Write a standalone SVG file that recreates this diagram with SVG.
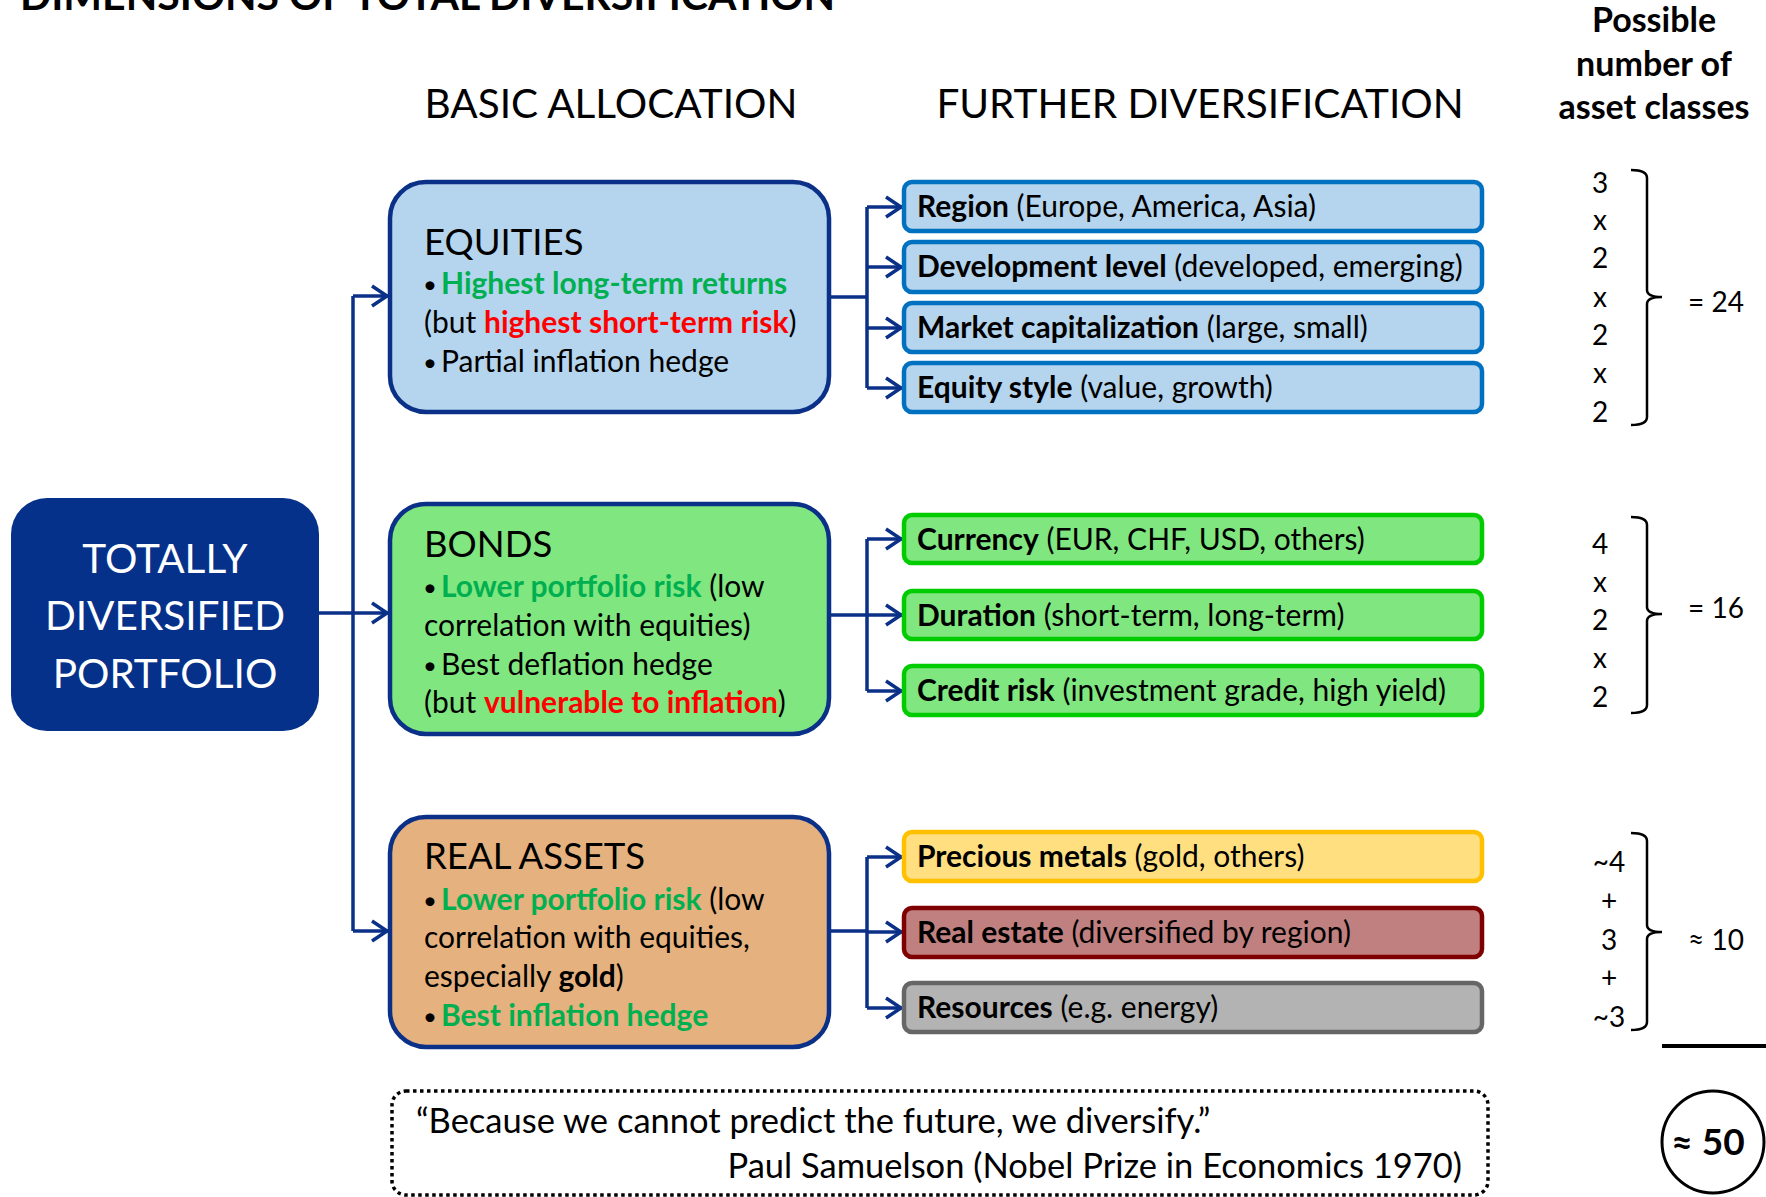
<svg xmlns="http://www.w3.org/2000/svg" width="1766" height="1197" viewBox="0 0 1766 1197">
<defs>
<style>
.t{font-family:Lato,"Open Sans","Liberation Sans",sans-serif;fill:#000}
.w{fill:#fff}
.b{font-weight:bold}
.g{fill:#00B050;font-weight:bold}
.r{fill:#FF0000;font-weight:bold}
.body{font-size:30px}
.bul{font-size:24px}
.head{font-size:36.5px}
.num{font-size:28px;text-anchor:middle}
.conn{fill:none;stroke:#0B3088;stroke-width:3.5}
.main{stroke:#0B3088;stroke-width:4.5}
.sub{stroke-width:4.5}
.brk{fill:none;stroke:#000;stroke-width:2.5}
</style>
<marker id="arr" markerUnits="userSpaceOnUse" markerWidth="30" markerHeight="30" viewBox="-20 -15 30 30" refX="0" refY="0" orient="auto" overflow="visible">
<path d="M-16,-10 L-1,0 L-16,10" fill="none" stroke="#0B3088" stroke-width="3.5"/>
</marker>
</defs>
<rect width="1766" height="1197" fill="#fff"/>

<text class="t b" x="20" y="9.5" font-size="41">DIMENSIONS OF TOTAL DIVERSIFICATION</text>
<text class="t" x="611" y="118" font-size="40.5" text-anchor="middle">BASIC ALLOCATION</text>
<text class="t" x="1200" y="118" font-size="40.5" text-anchor="middle">FURTHER DIVERSIFICATION</text>
<g id="header-count" class="t b" font-size="34" text-anchor="middle">
<text x="1654" y="32">Possible</text>
<text x="1654" y="76">number of</text>
<text x="1654" y="119">asset classes</text>
</g>

<g id="connectors">
<path class="conn" d="M319,613 L388,613" marker-end="url(#arr)"/>
<path class="conn" d="M353,296 L353,931"/>
<path class="conn" d="M353,296 L388,296" marker-end="url(#arr)"/>
<path class="conn" d="M353,931 L388,931" marker-end="url(#arr)"/>
<path class="conn" d="M829,297 L867,297 M867,207 L867,388"/>
<path class="conn" d="M867,207 L902,207" marker-end="url(#arr)"/>
<path class="conn" d="M867,267 L902,267" marker-end="url(#arr)"/>
<path class="conn" d="M867,328 L902,328" marker-end="url(#arr)"/>
<path class="conn" d="M867,388 L902,388" marker-end="url(#arr)"/>
<path class="conn" d="M829,615 L867,615 M867,539 L867,691"/>
<path class="conn" d="M867,539 L902,539" marker-end="url(#arr)"/>
<path class="conn" d="M867,615 L902,615" marker-end="url(#arr)"/>
<path class="conn" d="M867,691 L902,691" marker-end="url(#arr)"/>
<path class="conn" d="M829,931 L867,931 M867,857 L867,1008"/>
<path class="conn" d="M867,857 L902,857" marker-end="url(#arr)"/>
<path class="conn" d="M867,932 L902,932" marker-end="url(#arr)"/>
<path class="conn" d="M867,1008 L902,1008" marker-end="url(#arr)"/>
</g>

<g id="portfolio">
<rect x="11" y="498" width="308" height="233" rx="36" fill="#06318A"/>
<g class="t w" font-size="40.5" text-anchor="middle">
<text class="w" x="165" y="573">TOTALLY</text>
<text class="w" x="165" y="630">DIVERSIFIED</text>
<text class="w" x="165" y="688">PORTFOLIO</text>
</g>
</g>

<g id="equities">
<rect class="main" x="390" y="182" width="439" height="230" rx="36" fill="#B5D4ED"/>
<text class="t head" x="424" y="255">EQUITIES</text>
<text class="t bul" x="423" y="293">•</text><text class="t body g" x="441" y="294">Highest long-term returns</text>
<text class="t body" x="424" y="333">(but <tspan class="r">highest short-term risk</tspan>)</text>
<text class="t bul" x="423" y="371">•</text><text class="t body" x="441" y="372">Partial inflation hedge</text>
</g>

<g id="bonds">
<rect class="main" x="390" y="504" width="439" height="230" rx="36" fill="#80E680"/>
<text class="t head" x="424" y="557">BONDS</text>
<text class="t bul" x="423" y="596">•</text><text class="t body" x="441" y="597"><tspan class="g">Lower portfolio risk</tspan> (low</text>
<text class="t body" x="424" y="636">correlation with equities)</text>
<text class="t bul" x="423" y="674">•</text><text class="t body" x="441" y="675">Best deflation hedge</text>
<text class="t body" x="424" y="713">(but <tspan class="r">vulnerable to inflation</tspan>)</text>
</g>

<g id="real-assets">
<rect class="main" x="390" y="817" width="439" height="230" rx="36" fill="#E5B17E"/>
<text class="t head" x="424" y="869">REAL ASSETS</text>
<text class="t bul" x="423" y="909">•</text><text class="t body" x="441" y="910"><tspan class="g">Lower portfolio risk</tspan> (low</text>
<text class="t body" x="424" y="948">correlation with equities,</text>
<text class="t body" x="424" y="987">especially <tspan class="b">gold</tspan>)</text>
<text class="t bul" x="423" y="1025">•</text><text class="t body g" x="441" y="1026">Best inflation hedge</text>
</g>

<g id="region">
<rect class="sub" x="904" y="182" width="578" height="49" rx="8" fill="#B5D4ED" stroke="#0070C0"/>
<text class="t body" x="917" y="217"><tspan class="b">Region</tspan> (Europe, America, Asia)</text>
</g>
<g id="development">
<rect class="sub" x="904" y="242" width="578" height="50" rx="8" fill="#B5D4ED" stroke="#0070C0"/>
<text class="t body" x="917" y="277"><tspan class="b">Development level</tspan> (developed, emerging)</text>
</g>
<g id="market-cap">
<rect class="sub" x="904" y="303" width="578" height="49" rx="8" fill="#B5D4ED" stroke="#0070C0"/>
<text class="t body" x="917" y="338"><tspan class="b">Market capitalization</tspan> (large, small)</text>
</g>
<g id="equity-style">
<rect class="sub" x="904" y="363" width="578" height="49" rx="8" fill="#B5D4ED" stroke="#0070C0"/>
<text class="t body" x="917" y="398"><tspan class="b">Equity style</tspan> (value, growth)</text>
</g>
<g id="currency">
<rect class="sub" x="904" y="515" width="578" height="48" rx="8" fill="#80E680" stroke="#00CC00"/>
<text class="t body" x="917" y="550"><tspan class="b">Currency</tspan> (EUR, CHF, USD, others)</text>
</g>
<g id="duration">
<rect class="sub" x="904" y="591" width="578" height="48" rx="8" fill="#80E680" stroke="#00CC00"/>
<text class="t body" x="917" y="626"><tspan class="b">Duration</tspan> (short-term, long-term)</text>
</g>
<g id="credit-risk">
<rect class="sub" x="904" y="666" width="578" height="49" rx="8" fill="#80E680" stroke="#00CC00"/>
<text class="t body" x="917" y="701"><tspan class="b">Credit risk</tspan> (investment grade, high yield)</text>
</g>
<g id="precious-metals">
<rect class="sub" x="904" y="832" width="578" height="49" rx="8" fill="#FFDF80" stroke="#FFC000"/>
<text class="t body" x="917" y="867"><tspan class="b">Precious metals</tspan> (gold, others)</text>
</g>
<g id="real-estate">
<rect class="sub" x="904" y="908" width="578" height="49" rx="8" fill="#C0807F" stroke="#7F0000"/>
<text class="t body" x="917" y="943"><tspan class="b">Real estate</tspan> (diversified by region)</text>
</g>
<g id="resources">
<rect class="sub" x="904" y="983" width="578" height="49" rx="8" fill="#B3B3B3" stroke="#666666"/>
<text class="t body" x="917" y="1018"><tspan class="b">Resources</tspan> (e.g. energy)</text>
</g>

<g id="count-equities">
<text class="t num" x="1600" y="193">3</text>
<text class="t num" x="1600" y="230">x</text>
<text class="t num" x="1600" y="268">2</text>
<text class="t num" x="1600" y="307">x</text>
<text class="t num" x="1600" y="345">2</text>
<text class="t num" x="1600" y="383">x</text>
<text class="t num" x="1600" y="422">2</text>
<path class="brk" d="M1631,170 Q1647,170 1647,178 L1647,290 Q1647,297 1662,297 Q1647,297 1647,304 L1647,417 Q1647,425 1631,425"/>
<text class="t" x="1688" y="312" font-size="28">= 24</text>
</g>
<g id="count-bonds">
<text class="t num" x="1600" y="554">4</text>
<text class="t num" x="1600" y="592">x</text>
<text class="t num" x="1600" y="630">2</text>
<text class="t num" x="1600" y="668">x</text>
<text class="t num" x="1600" y="707">2</text>
<path class="brk" d="M1631,517 Q1647,517 1647,525 L1647,607 Q1647,614 1662,614 Q1647,614 1647,621 L1647,705 Q1647,713 1631,713"/>
<text class="t" x="1688" y="618" font-size="28">= 16</text>
</g>
<g id="count-real">
<text class="t num" x="1609" y="872">~4</text>
<text class="t num" x="1609" y="911">+</text>
<text class="t num" x="1609" y="950">3</text>
<text class="t num" x="1609" y="988">+</text>
<text class="t num" x="1609" y="1027">~3</text>
<path class="brk" d="M1631,833 Q1647,833 1647,841 L1647,925 Q1647,932 1662,932 Q1647,932 1647,939 L1647,1022 Q1647,1030 1631,1030"/>
<text class="t" x="1688" y="950" font-size="28">≈ 10</text>
</g>
<line x1="1662" y1="1046" x2="1766" y2="1046" stroke="#000" stroke-width="4"/>
<g id="total">
<circle cx="1713" cy="1142" r="51" fill="#fff" stroke="#000" stroke-width="3"/>
<text class="t b" x="1708" y="1155" font-size="37" text-anchor="middle">≈ 50</text>
</g>

<g id="quote">
<rect x="392" y="1091" width="1096" height="104" rx="14" fill="none" stroke="#000" stroke-width="3.5" stroke-dasharray="3.5 3.5"/>
<text class="t" x="416" y="1133" font-size="34.5">“Because we cannot predict the future, we diversify.”</text>
<text class="t" x="1462" y="1178" font-size="34.5" text-anchor="end">Paul Samuelson (Nobel Prize in Economics 1970)</text>
</g>
</svg>
